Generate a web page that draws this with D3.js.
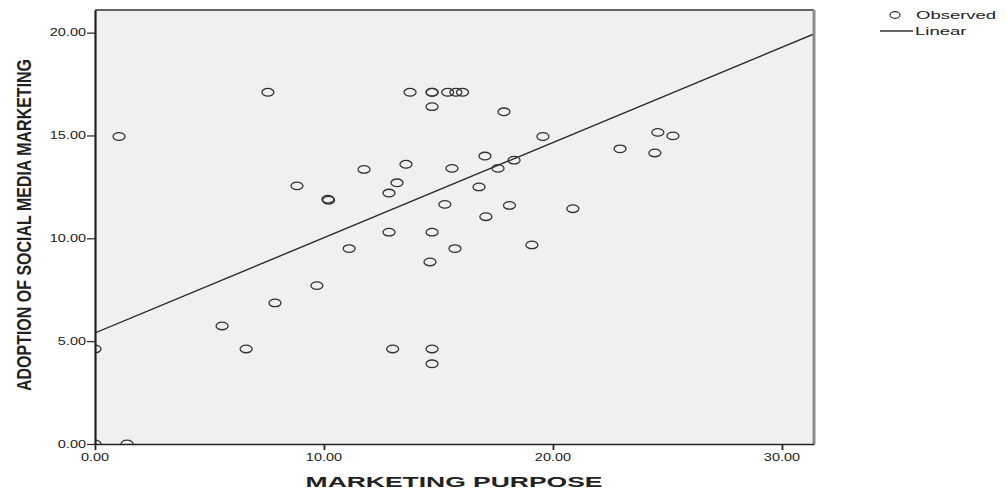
<!DOCTYPE html>
<html>
<head>
<meta charset="utf-8">
<script src="https://cdn.jsdelivr.net/npm/d3@7"></script>
<style>
  body { margin: 0; background: #fff; }
  text { font-family: "Liberation Sans", Arial, sans-serif; fill: #222; }
</style>
</head>
<body>
<svg id="chart" width="1005" height="493"></svg>
<script>
const marketingPurpose = [0, 0, 1.4, 1.05, 7.55, 8.82, 5.55, 6.6, 7.86, 9.69, 10.17, 10.2, 11.1, 11.75,
  12.84, 13.19, 12.84, 13.0, 13.58, 13.76, 14.72, 14.72, 14.72, 15.4, 15.76, 16.05, 14.72, 14.63,
  14.72, 14.72, 15.28, 15.59, 15.72, 16.77, 17.03, 17.07, 17.6, 17.86, 18.3, 18.1, 19.08, 19.56,
  20.87, 22.93, 24.45, 24.58, 25.24];
const adoptionSMM = [4.62, 0, 0, 14.95, 17.1, 12.55, 5.74, 4.62, 6.86, 7.7, 11.9, 11.85, 9.5, 13.35,
  12.2, 12.7, 10.3, 4.62, 13.6, 17.1, 17.1, 17.1, 16.4, 17.1, 17.1, 17.1, 10.3, 8.85,
  4.62, 3.9, 11.65, 13.4, 9.5, 12.5, 14.0, 11.05, 13.4, 16.15, 13.8, 11.6, 9.68, 14.95,
  11.44, 14.35, 14.15, 15.15, 14.98];
// linear fit (intercept, slope)
const fitIntercept = 5.4;
const fitSlope = 0.463;
const xTicks = [0, 10, 20, 30];
const yTicks = [0, 5, 10, 15, 20];
const xDomain = [0, 31.4];
const yDomain = [0, 21.1];
const legendItems = ["Observed", "Linear"];

const svg = d3.select("#chart");
const m = {left: 95, right: 814, top: 10, bottom: 444};
const x = d3.scaleLinear().domain(xDomain).range([m.left, m.right]);
const y = d3.scaleLinear().domain(yDomain).range([m.bottom, m.top]);
const SX = 1.45; // the picture is stretched sideways

// put text in with a horizontal stretch
function stretchText(g, str, px, py, size, anchor, weight, sx) {
  return g.append("text")
    .attr("transform", `translate(${px},${py}) scale(${sx},1)`)
    .attr("text-anchor", anchor)
    .attr("font-size", size)
    .attr("font-weight", weight || "normal")
    .text(str);
}

// plot background
svg.append("rect")
  .attr("x", m.left).attr("y", m.top)
  .attr("width", m.right - m.left).attr("height", m.bottom - m.top)
  .attr("fill", "#f0f0f0");

svg.append("clipPath").attr("id", "plotClip")
  .append("rect")
  .attr("x", m.left).attr("y", m.top)
  .attr("width", m.right - m.left).attr("height", m.bottom - m.top);

const plot = svg.append("g").attr("clip-path", "url(#plotClip)");

// fit line
plot.append("line")
  .attr("x1", x(xDomain[0])).attr("y1", y(fitIntercept + fitSlope * xDomain[0]))
  .attr("x2", x(xDomain[1])).attr("y2", y(fitIntercept + fitSlope * xDomain[1]))
  .attr("stroke", "#2a2a2a").attr("stroke-width", 1.4);

// observed points
plot.selectAll("ellipse.pt")
  .data(d3.range(marketingPurpose.length))
  .join("ellipse")
  .attr("class", "pt")
  .attr("cx", i => x(marketingPurpose[i]))
  .attr("cy", i => y(adoptionSMM[i]))
  .attr("rx", 6).attr("ry", 3.8)
  .attr("fill", "none")
  .attr("stroke", "#333")
  .attr("stroke-width", 1.3);

// frame: top and right
svg.append("line")
  .attr("x1", m.left).attr("x2", m.right).attr("y1", m.top).attr("y2", m.top)
  .attr("stroke", "#333").attr("stroke-width", 1.3);
svg.append("line")
  .attr("x1", m.right).attr("x2", m.right).attr("y1", m.top).attr("y2", m.bottom)
  .attr("stroke", "#8a8a8a").attr("stroke-width", 3);

// axes
const xAxis = svg.append("g")
  .attr("transform", `translate(0,${m.bottom})`)
  .call(d3.axisBottom(x).tickValues(xTicks).tickSize(6).tickFormat(() => "").tickSizeOuter(0));
const yAxis = svg.append("g")
  .attr("transform", `translate(${m.left},0)`)
  .call(d3.axisLeft(y).tickValues(yTicks).tickSize(8).tickFormat(() => "").tickSizeOuter(0));
xAxis.select(".domain").attr("stroke", "#222").attr("stroke-width", 1.5);
yAxis.select(".domain").attr("stroke", "#222").attr("stroke-width", 2.2);
xAxis.selectAll(".tick line").attr("stroke", "#222").attr("stroke-width", 1.8);
yAxis.selectAll(".tick line").attr("stroke", "#222").attr("stroke-width", 1.2);

// tick labels
const fmt = d3.format(".2f");
const labels = svg.append("g");
xTicks.forEach(t => stretchText(labels, fmt(t), x(t), 461, 10, "middle", "normal", SX));
yTicks.forEach(t => stretchText(labels, fmt(t), m.left - 9, y(t) + 3.5, 10, "end", "normal", SX));

// axis titles
stretchText(svg, "MARKETING PURPOSE", 454, 487, 14, "middle", "bold", 1.89);
svg.append("text")
  .attr("transform", `translate(${31},${225}) scale(1.22,1) rotate(-90)`)
  .attr("text-anchor", "middle")
  .attr("font-size", 16)
  .attr("font-weight", "bold")
  .text("ADOPTION OF SOCIAL MEDIA MARKETING");

// legend
const lg = svg.append("g");
lg.append("ellipse").attr("cx", 895).attr("cy", 15).attr("rx", 5).attr("ry", 3.3)
  .attr("fill", "none").attr("stroke", "#333").attr("stroke-width", 1.2);
stretchText(lg, legendItems[0], 916, 19, 10, "start", "normal", 1.85);
lg.append("line").attr("x1", 880).attr("x2", 913).attr("y1", 31).attr("y2", 31)
  .attr("stroke", "#333").attr("stroke-width", 1.3);
stretchText(lg, legendItems[1], 915, 35, 10, "start", "normal", 1.85);
</script>
</body>
</html>
